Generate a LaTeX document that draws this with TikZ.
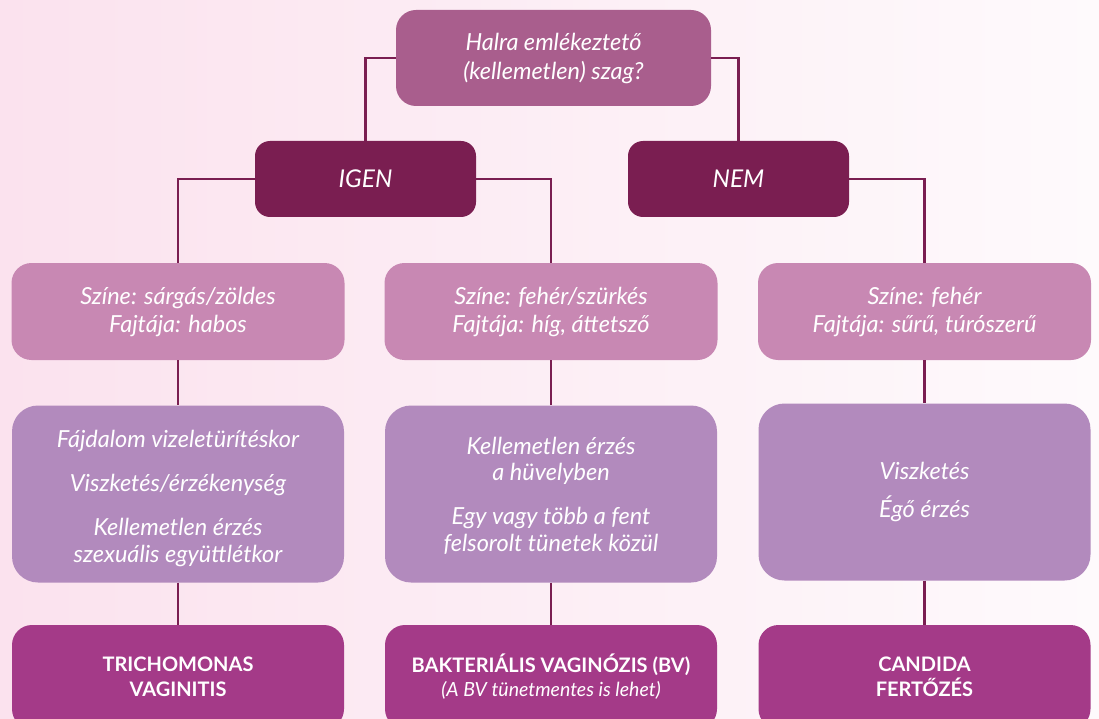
\documentclass[tikz,border=0pt]{standalone}
\usepackage{fontspec}
\setmainfont{Lato}
\definecolor{bgl}{HTML}{FBE2EE}
\definecolor{bgr}{HTML}{FEFAFC}
\definecolor{qcol}{HTML}{A95E8D}
\definecolor{dark}{HTML}{7A1E51}
\definecolor{pinkc}{HTML}{C888B3}
\definecolor{lav}{HTML}{B28ABD}
\definecolor{res}{HTML}{A43A88}
\tikzset{
  box/.style={rectangle, rounded corners=16pt, text=white, align=center, inner sep=0pt,
    font=\itshape\fontsize{23.5}{29}\selectfont},
  qbox/.style={box, fill=qcol, minimum width=315pt, minimum height=96pt, rounded corners=20pt},
  yn/.style={box, fill=dark, minimum width=221pt, minimum height=76pt, rounded corners=15pt,
    font=\itshape\fontsize{24.5}{29}\selectfont},
  colbox/.style={box, fill=pinkc, minimum width=333pt, minimum height=97pt, rounded corners=20pt,
    font=\itshape\fontsize{23.5}{28}\selectfont},
  symbox/.style={box, fill=lav, minimum width=332pt, minimum height=177pt, rounded corners=26pt,
    font=\itshape\fontsize{23.5}{26.5}\selectfont},
  resbox/.style={box, fill=res, minimum width=332pt, minimum height=104pt, rounded corners=20pt,
    font=\bfseries\fontsize{20}{25}\selectfont},
  link/.style={draw=dark, line width=2.2pt}
}
\begin{document}
\begin{tikzpicture}[x=1pt,y=-1pt]
\useasboundingbox (0,0) rectangle (1099,719);
\clip (0,0) rectangle (1099,719);
\shade[left color=bgl, right color=bgr] (0,0) rectangle (1099,719);

\node[qbox] (q) at (553.5,58) {Halra emlékeztető\\(kellemetlen) szag?};
\node[yn] (igen) at (365.5,179) {IGEN};
\node[yn] (nem) at (738.5,179) {NEM};

\node[colbox] (c1) at (178,311.5) {Színe: sárgás/zöldes\\Fajtája: habos};
\node[colbox] (c2) at (551,311.5) {Színe: fehér/szürkés\\Fajtája: híg, áttetsző};
\node[colbox] (c3) at (924.5,311.5) {Színe: fehér\\Fajtája: sűrű, túrószerű};

\node[symbox] (s1) at (178,494) {\rule{0pt}{26pt}Fájdalom vizeletürítéskor\\[17.5pt]Viszketés/érzékenység\\[17.5pt]Kellemetlen érzés\\szexuális együttlétkor};
\node[symbox] (s2) at (551,494) {\rule{0pt}{20pt}Kellemetlen érzés\\a hüvelyben\\[17.5pt]Egy vagy több a fent\\felsorolt tünetek közül};
\node[symbox] (s3) at (924.5,492) {Viszketés\\[11pt]Égő érzés};

\node[resbox] (r1) at (178,677) {TRICHOMONAS\\VAGINITIS};
\node[resbox] (r2) at (551,677) {BAKTERIÁLIS VAGINÓZIS (BV)\\[-1pt]{\mdseries\itshape\fontsize{19.5}{20}\selectfont (A BV tünetmentes is lehet)}};
\node[resbox] (r3) at (924.5,677) {CANDIDA\\FERTŐZÉS};

\draw[link] (q.west) -| (igen.north);
\draw[link] (q.east) -| (nem.north);
\draw[link] (igen.west) -| (c1.north);
\draw[link] (igen.east) -| (c2.north);
\draw[link] (nem.east) -| (c3.north);
\draw[link] (c1.south) -- (s1.north);
\draw[link] (c2.south) -- (s2.north);
\draw[link] (c3.south) -- (s3.north);
\draw[link] (s1.south) -- (r1.north);
\draw[link] (s2.south) -- (r2.north);
\draw[link] (s3.south) -- (r3.north);
\end{tikzpicture}
\end{document}
